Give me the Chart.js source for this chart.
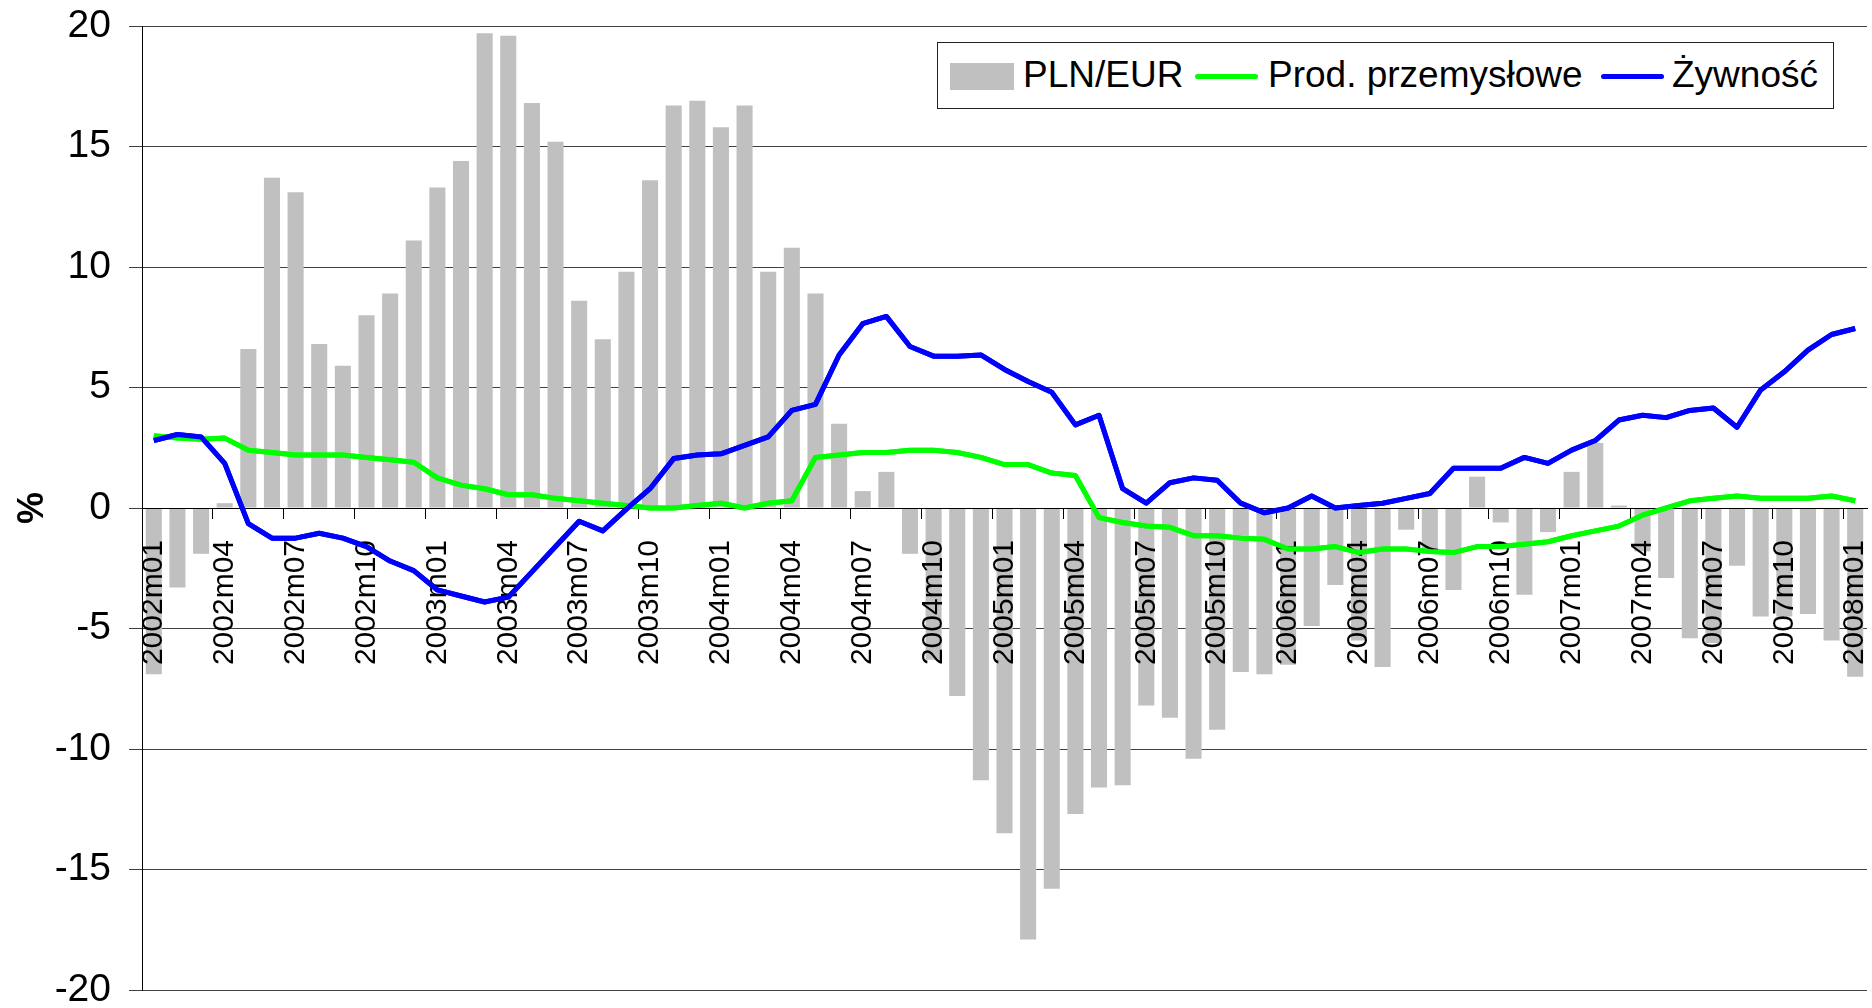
<!DOCTYPE html>
<html>
<head>
<meta charset="utf-8">
<script src="https://cdn.jsdelivr.net/npm/chart.js@4.4.1/dist/chart.umd.min.js"></script>
<style>
  body { margin: 0; background: #fff; }
  #wrap { position: relative; width: 1872px; height: 1008px; font-family: "Liberation Sans", Arial, sans-serif; }
  #legend { position: absolute; left: 937px; top: 42px; width: 895px; height: 65px; border: 1px solid #222; background: #fff; }
  #legend .sw { position: absolute; }
  #legend .tx { position: absolute; top: 13px; font-size: 37px; line-height: 37px; color: #000; white-space: nowrap; }
</style>
</head>
<body>
<div id="wrap">
  <canvas id="chart" width="1872" height="1008"></canvas>
  <div id="legend"></div>
</div>
<script>
const months = [
  '2002m01','2002m02','2002m03','2002m04','2002m05','2002m06','2002m07','2002m08','2002m09','2002m10','2002m11','2002m12',
  '2003m01','2003m02','2003m03','2003m04','2003m05','2003m06','2003m07','2003m08','2003m09','2003m10','2003m11','2003m12',
  '2004m01','2004m02','2004m03','2004m04','2004m05','2004m06','2004m07','2004m08','2004m09','2004m10','2004m11','2004m12',
  '2005m01','2005m02','2005m03','2005m04','2005m05','2005m06','2005m07','2005m08','2005m09','2005m10','2005m11','2005m12',
  '2006m01','2006m02','2006m03','2006m04','2006m05','2006m06','2006m07','2006m08','2006m09','2006m10','2006m11','2006m12',
  '2007m01','2007m02','2007m03','2007m04','2007m05','2007m06','2007m07','2007m08','2007m09','2007m10','2007m11','2007m12',
  '2008m01'
];

const plnEur = [
  -6.9, -3.3, -1.9, 0.2, 6.6, 13.7, 13.1, 6.8, 5.9, 8.0, 8.9, 11.1,
  13.3, 14.4, 19.7, 19.6, 16.8, 15.2, 8.6, 7.0, 9.8, 13.6, 16.7, 16.9,
  15.8, 16.7, 9.8, 10.8, 8.9, 3.5, 0.7, 1.5, -1.9, -6.3, -7.8, -11.3,
  -13.5, -17.9, -15.8, -12.7, -11.6, -11.5, -8.2, -8.7, -10.4, -9.2, -6.8, -6.9,
  -6.5, -4.9, -3.2, -5.5, -6.6, -0.9, -1.9, -3.4, 1.3, -0.6, -3.6, -1.0,
  1.5, 2.7, 0.1, -1.8, -2.9, -5.4, -5.6, -2.4, -4.5, -4.5, -4.4, -5.5,
  -7.0
];

const prodPrzem = [
  3.0, 2.9, 2.85, 2.9, 2.4, 2.3, 2.2, 2.2, 2.2, 2.1, 2.0, 1.9,
  1.25, 0.95, 0.8, 0.55, 0.55, 0.4, 0.3, 0.2, 0.1, 0.0, 0.0, 0.1,
  0.2, 0.0, 0.2, 0.3, 2.1, 2.2, 2.3, 2.3, 2.4, 2.4, 2.3, 2.1,
  1.8, 1.8, 1.45, 1.35, -0.4, -0.6, -0.75, -0.8, -1.15, -1.15, -1.25, -1.3,
  -1.7, -1.7, -1.6, -1.85, -1.7, -1.7, -1.8, -1.85, -1.6, -1.6, -1.5, -1.4,
  -1.15, -0.95, -0.75, -0.3, 0.0, 0.3, 0.4, 0.5, 0.4, 0.4, 0.4, 0.5,
  0.3
];

const zywnosc = [
  2.8, 3.05, 2.95, 1.85, -0.65, -1.25, -1.25, -1.05, -1.25, -1.6, -2.2, -2.6,
  -3.4, -3.65, -3.9, -3.7, -2.65, -1.6, -0.55, -0.95, -0.05, 0.8, 2.05, 2.2,
  2.25, 2.6, 2.95, 4.05, 4.3, 6.35, 7.65, 7.95, 6.7, 6.3, 6.3, 6.35,
  5.75, 5.25, 4.8, 3.45, 3.85, 0.8, 0.2, 1.05, 1.25, 1.15, 0.2, -0.2,
  0.0, 0.5, 0.0, 0.1, 0.2, 0.4, 0.6, 1.65, 1.65, 1.65, 2.1, 1.85,
  2.4, 2.8, 3.65, 3.85, 3.75, 4.05, 4.15, 3.35, 4.9, 5.65, 6.55, 7.2,
  7.45
];

const yTicks = [-20, -15, -10, -5, 0, 5, 10, 15, 20];

const FONT = '"Liberation Sans", Arial, sans-serif';

// lines go above the axis labels, like in the original
const linesOnTop = {
    id: 'linesOnTop',
    afterDraw(chart) {
        const area = chart.chartArea;
        const c = chart.ctx;
        c.save();
        c.beginPath();
        c.rect(area.left, area.top - 5, area.right - area.left + 5, area.bottom - area.top + 10);
        c.clip();
        chart.data.datasets.forEach((ds, i) => {
            if (ds.type === 'line') {
                chart.getDatasetMeta(i).controller.draw();
            }
        });
        c.restore();
    }
};

const chart = new Chart(document.getElementById('chart'), {
    type: 'bar',
    data: {
        labels: months,
        datasets: [
            {
                label: 'PLN/EUR',
                data: plnEur,
                backgroundColor: '#c0c0c0',
                barPercentage: 0.68,
                categoryPercentage: 1,
                order: 3
            },
            {
                type: 'line',
                label: 'Prod. przemysłowe',
                data: prodPrzem,
                borderColor: '#00ff00',
                borderWidth: 5,
                pointRadius: 0,
                tension: 0,
                borderJoinStyle: 'round',
                order: 2
            },
            {
                type: 'line',
                label: 'Żywność',
                data: zywnosc,
                borderColor: '#0000ff',
                borderWidth: 5,
                pointRadius: 0,
                tension: 0,
                borderJoinStyle: 'round',
                order: 1
            }
        ]
    },
    options: {
        responsive: false,
        animation: false,
        devicePixelRatio: 1,
        layout: { padding: { top: 26, right: 5, bottom: 18, left: 0 } },
        plugins: {
            legend: { display: false },
            tooltip: { enabled: false }
        },
        scales: {
            x: {
                type: 'category',
                position: { y: 0 },
                offset: true,
                afterFit: (s) => { s.paddingLeft = 0; s.paddingRight = 0; },
                border: { display: true, color: '#000', width: 1, z: 1 },
                grid: {
                    z: 1,
                    drawOnChartArea: false,
                    drawTicks: true,
                    tickLength: 10,
                    offset: true,
                    color: (ctx) => (ctx.index !== undefined && ctx.index % 3 === 0) ? '#000' : 'rgba(0,0,0,0)'
                },
                ticks: {
                    z: 1,
                    autoSkip: false,
                    maxRotation: 90,
                    minRotation: 90,
                    padding: 22,
                    color: '#000',
                    font: { family: FONT, size: 30, lineHeight: 1 },
                    callback: (v, i) => i % 3 === 0 ? months[i] : ''
                }
            },
            y: {
                min: -20,
                max: 20,
                afterFit: (s) => { s.width = 142; s.paddingTop = 0; s.paddingBottom = 0; },
                afterBuildTicks: (s) => { s.ticks = yTicks.map(v => ({ value: v })); },
                border: { display: true, color: '#000', width: 1 },
                grid: {
                    color: '#404040',
                    lineWidth: 1,
                    tickLength: 13
                },
                ticks: {
                    padding: 18,
                    color: '#000',
                    font: { family: FONT, size: 39, lineHeight: 1 }
                },
                title: {
                    display: true,
                    text: '%',
                    color: '#000',
                    font: { family: FONT, size: 36, weight: 'bold', lineHeight: 1.2 },
                    padding: { top: 11, bottom: 0 }
                }
            }
        }
    },
    plugins: [linesOnTop]
});

// legend built from the datasets
const legend = document.getElementById('legend');
const legendLayout = [
    { sw: { left: 12, top: 20, width: 64, height: 27 }, text: 85 },
    { sw: { left: 257, top: 31, width: 63, height: 5 }, text: 330 },
    { sw: { left: 663, top: 31, width: 63, height: 5 }, text: 734 }
];
chart.data.datasets.forEach((ds, i) => {
    const pos = legendLayout[i];
    const sw = document.createElement('div');
    sw.className = 'sw';
    sw.style.left = pos.sw.left + 'px';
    sw.style.top = pos.sw.top + 'px';
    sw.style.width = pos.sw.width + 'px';
    sw.style.height = pos.sw.height + 'px';
    sw.style.background = ds.type === 'line' ? ds.borderColor : ds.backgroundColor;
    if (ds.type === 'line') sw.style.borderRadius = '3px';
    legend.appendChild(sw);
    const tx = document.createElement('div');
    tx.className = 'tx';
    tx.style.left = pos.text + 'px';
    tx.textContent = ds.label;
    legend.appendChild(tx);
});
</script>
</body>
</html>
